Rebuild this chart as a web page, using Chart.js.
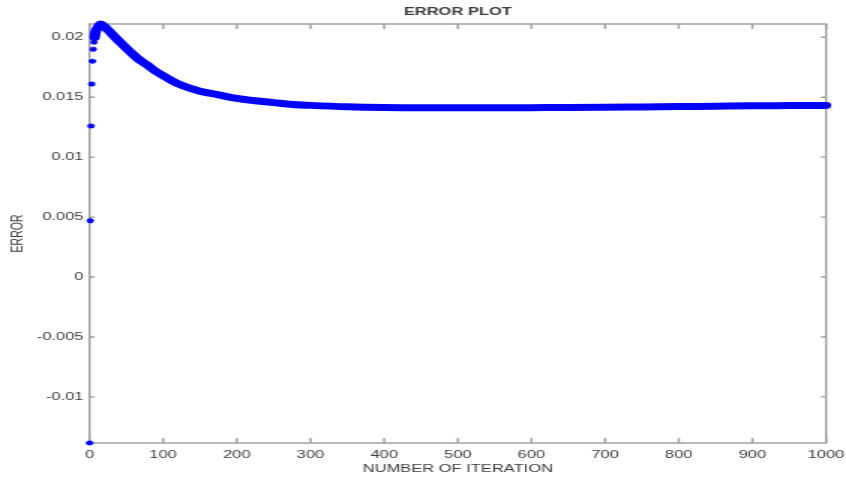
<!DOCTYPE html>
<html lang="en">
<head>
<meta charset="UTF-8">
<title>Error Plot</title>
<script src="https://cdn.jsdelivr.net/npm/chart.js"></script>
<style>
    html, body { margin: 0; padding: 0; background: #fff; overflow: hidden; }
    /* the source figure is stretched sideways, so draw narrow and widen */
    #wrap { width: 564px; height: 482px; transform: scaleX(1.5); transform-origin: 0 0; }
</style>
</head>
<body>
<div id="wrap"><canvas id="errorChart"></canvas></div>
<script>
// first few iterations, plotted as single markers
const startIters = [0, 1, 2, 3, 4, 5, 6, 7, 8];
const startErrors = [-0.01385, 0.0047, 0.0126, 0.0161, 0.0180, 0.0190, 0.0196, 0.0200, 0.0203];

// rest of the run (dense markers, they merge into a thick band)
const iterations = [7, 8, 10, 12, 15, 20, 30, 43, 55, 66, 78, 89, 100, 111, 125, 150, 175, 200,
    225, 250, 275, 300, 350, 400, 450, 500, 550, 600, 650, 700, 750, 800, 850, 900, 950, 1000];
const errorValues = [0.0200, 0.0204, 0.0207, 0.0209, 0.02111, 0.0209, 0.0203, 0.0195, 0.0188, 0.0182,
    0.0177, 0.0172, 0.0168, 0.0164, 0.0160, 0.0155, 0.0152, 0.0149,
    0.0147, 0.01455, 0.0144, 0.01432, 0.01420, 0.01414, 0.01412, 0.01412, 0.01412, 0.01413,
    0.01414, 0.01416, 0.01419, 0.01422, 0.01425, 0.01428, 0.01430, 0.01432];

const xTickValues = [0, 100, 200, 300, 400, 500, 600, 700, 800, 900, 1000];
const xTickLabels = ['0', '100', '200', '300', '400', '500', '600', '700', '800', '900', '1000'];
const yTickValues = [-0.01, -0.005, 0, 0.005, 0.01, 0.015, 0.02];
const yTickLabels = ['-0.01', '-0.005', '0', '0.005', '0.01', '0.015', '0.02'];

const textColor = '#3c3c3c';
const axisColor = '#9c9c9c';
const fontFamily = '"Liberation Sans", Arial, Helvetica, sans-serif';

function labelFor(values, labels, v) {
    const i = values.findIndex(t => Math.abs(t - v) < 1e-9);
    return i >= 0 ? labels[i] : '';
}

// box round the plot plus inward tick marks, matlab style
const boxAxes = {
    id: 'boxAxes',
    beforeDatasetsDraw(chart) {
        const { ctx, chartArea: a, scales: { x, y } } = chart;
        ctx.save();
        ctx.strokeStyle = axisColor;
        ctx.lineWidth = 1.4;
        ctx.strokeRect(a.left, a.top, a.right - a.left, a.bottom - a.top);
        ctx.beginPath();
        xTickValues.forEach(v => {
            const px = x.getPixelForValue(v);
            ctx.moveTo(px, a.bottom); ctx.lineTo(px, a.bottom - 5);
            ctx.moveTo(px, a.top); ctx.lineTo(px, a.top + 5);
        });
        yTickValues.forEach(v => {
            const py = y.getPixelForValue(v);
            ctx.moveTo(a.left, py); ctx.lineTo(a.left + 3.5, py);
            ctx.moveTo(a.right, py); ctx.lineTo(a.right - 3.5, py);
        });
        ctx.stroke();
        ctx.restore();
    }
};

const ctx = document.getElementById('errorChart').getContext('2d');
new Chart(ctx, {
    type: 'scatter',
    data: {
        datasets: [{
            label: 'start',
            data: startIters.map((v, i) => ({ x: v, y: startErrors[i] })),
            pointStyle: 'star',
            pointRadius: 2.6,
            borderColor: '#0000ff',
            backgroundColor: '#0000ff',
            borderWidth: 1.3,
            showLine: false,
            clip: false
        }, {
            label: 'error',
            data: iterations.map((v, i) => ({ x: v, y: errorValues[i] })),
            showLine: true,
            pointRadius: 0,
            borderColor: '#0000ff',
            borderWidth: 7,
            cubicInterpolationMode: 'monotone',
            borderJoinStyle: 'round',
            borderCapStyle: 'round',
            clip: false
        }]
    },
    options: {
        responsive: true,
        maintainAspectRatio: false,
        animation: false,
        layout: { padding: { left: 0, right: 13.3, top: 0, bottom: 0 } },
        plugins: {
            legend: { display: false },
            tooltip: { enabled: false },
            title: {
                display: true,
                fullSize: false,
                text: 'ERROR PLOT',
                color: textColor,
                font: { family: fontFamily, size: 11, weight: 'bold' },
                padding: { top: 5.4, bottom: 5.4 }
            }
        },
        scales: {
            x: {
                type: 'linear',
                min: 0,
                max: 1000,
                grid: { display: false, drawTicks: false },
                border: { display: false },
                afterBuildTicks: s => { s.ticks = xTickValues.map(v => ({ value: v })); },
                afterFit: s => { s.height = 39; s.paddingLeft = 0; s.paddingRight = 0; },
                ticks: {
                    autoSkip: false,
                    maxRotation: 0,
                    padding: 5.4,
                    color: textColor,
                    font: { family: fontFamily, size: 11 },
                    callback: v => labelFor(xTickValues, xTickLabels, v)
                },
                title: {
                    display: true,
                    text: 'NUMBER OF ITERATION',
                    color: textColor,
                    font: { family: fontFamily, size: 11 },
                    padding: { top: 0, bottom: 6.4 }
                }
            },
            y: {
                type: 'linear',
                min: -0.01385,
                max: 0.02111,
                grid: { display: false, drawTicks: false },
                border: { display: false },
                afterBuildTicks: s => { s.ticks = yTickValues.map(v => ({ value: v })); },
                afterFit: s => { s.width = 59.7; s.paddingTop = 0; s.paddingBottom = 0; },
                ticks: {
                    padding: 4,
                    color: textColor,
                    font: { family: fontFamily, size: 11 },
                    callback: v => labelFor(yTickValues, yTickLabels, v)
                },
                title: {
                    display: true,
                    text: 'ERROR',
                    color: textColor,
                    font: { family: fontFamily, size: 10.5 },
                    padding: { top: 5.7, bottom: 0 }
                }
            }
        }
    },
    plugins: [boxAxes]
});
</script>
</body>
</html>
